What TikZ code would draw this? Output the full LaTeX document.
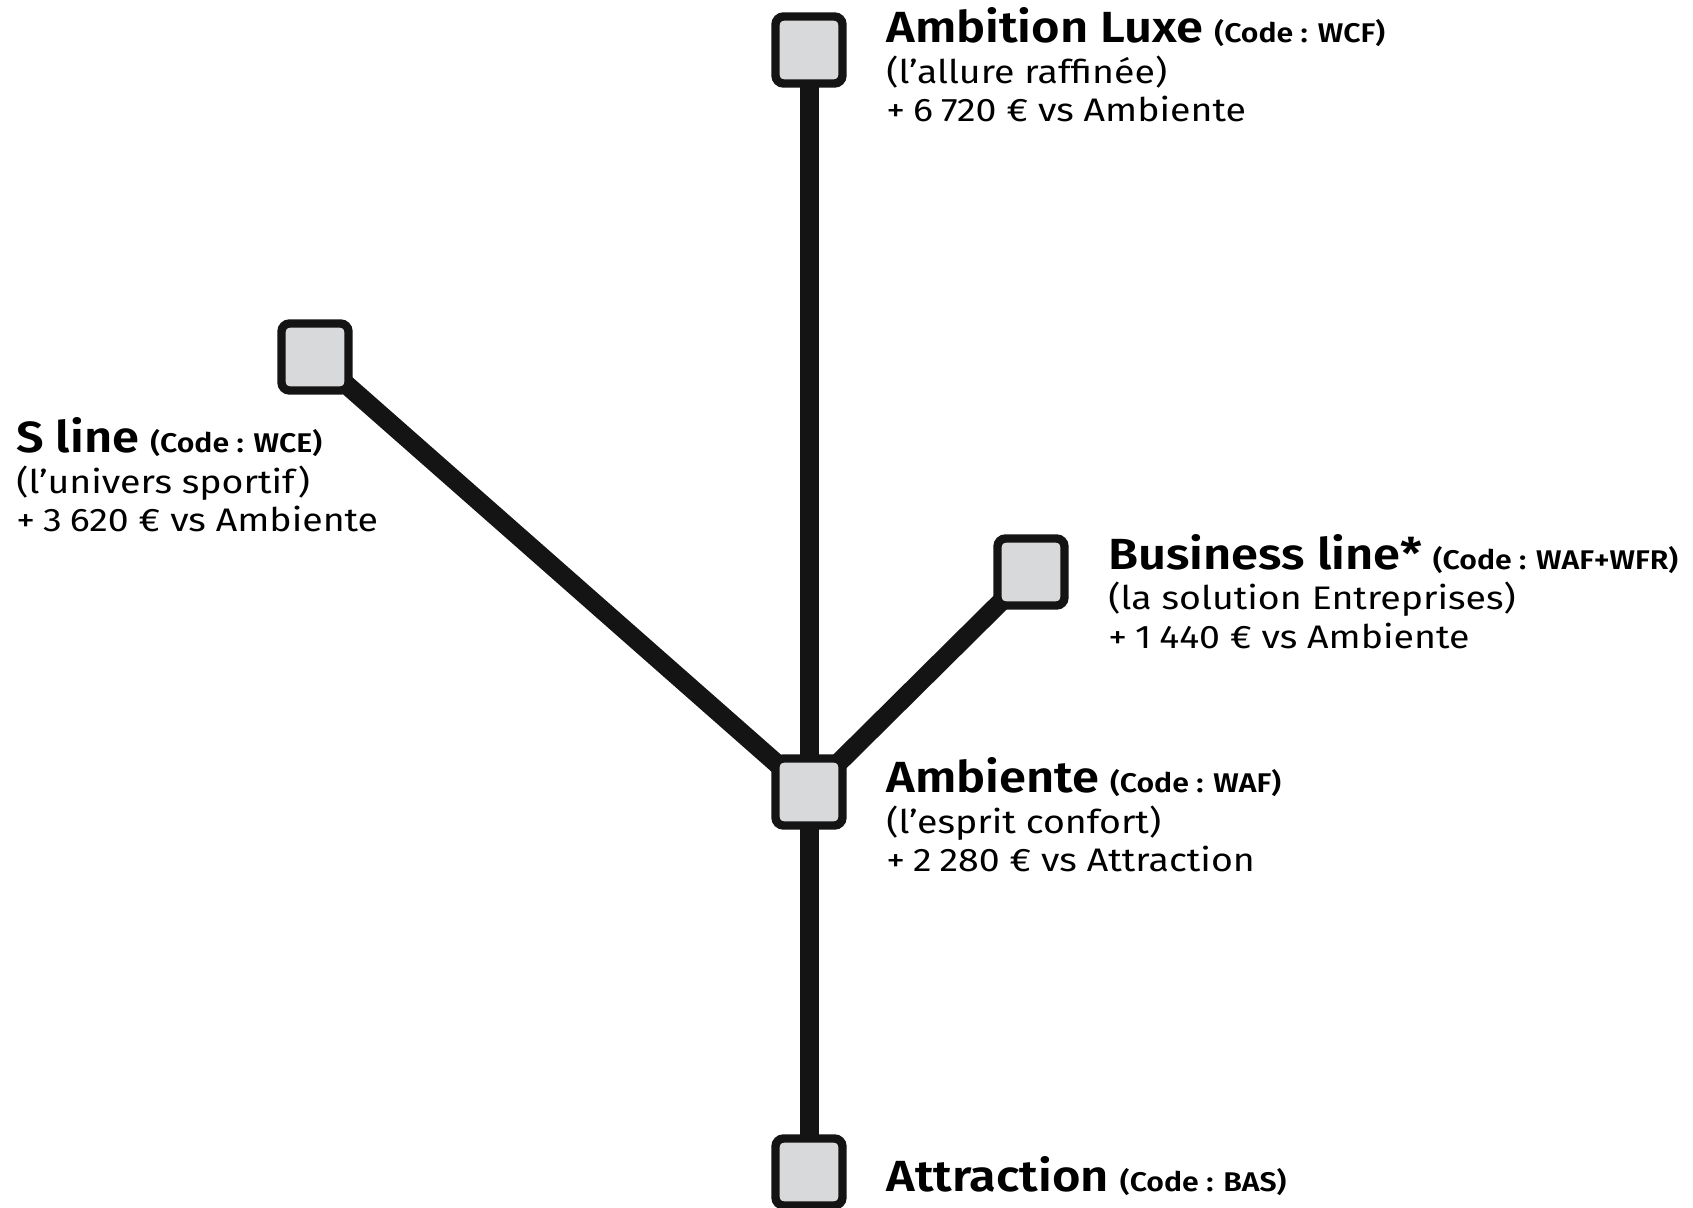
\documentclass[tikz,border=0pt]{standalone}
\usepackage{fontspec}
\setmainfont{Fira Sans}[
  FakeStretch=1.15,
  BoldFont={Fira Sans SemiBold},
  BoldFeatures={FakeStretch=1.12}]
\usetikzlibrary{backgrounds}
\definecolor{ink}{HTML}{141414}
\definecolor{boxfill}{HTML}{D8D9DB}
\newcommand{\codepart}[1]{\hspace{5.5pt}{\fontsize{13.5}{15}\selectfont\bfseries (Code : #1)}}
\newcommand{\ts}{\hspace*{4pt}}
\begin{document}
\begin{tikzpicture}[x=0.5pt,y=-0.5pt,
  verbox/.style={draw=ink, fill=boxfill, line width=4.2pt, rounded corners=4pt,
                 minimum size=33.5pt, inner sep=0pt},
  link/.style={draw=ink, line width=9.5pt},
  ttl/.style={anchor=base west, inner sep=0pt,
              font=\fontsize{21.8}{24}\selectfont\bfseries},
  sub/.style={anchor=base west, inner sep=0pt,
              font=\fontsize{16.3}{18}\selectfont},
]
\useasboundingbox (0,0) rectangle (1693,1208);

% boxes
\node[verbox] (lux) at (809,50) {};
\node[verbox] (sl)  at (315,357) {};
\node[verbox] (biz) at (1031,572) {};
\node[verbox] (amb) at (809,792) {};
\node[verbox] (att) at (809,1172) {};

% connectors behind boxes
\begin{scope}[on background layer]
  \fill[white] (0,0) rectangle (1693,1208);
  \draw[link] (lux.center) -- (amb.center);
  \draw[link] (amb.center) -- (att.center);
  \draw[link] (sl.center) -- (amb.center);
  \draw[link] (biz.center) -- (amb.center);
\end{scope}

% labels
\node[ttl] (luxA) at (886,43) {Ambition Luxe\codepart{WCF}};
\node[sub] (luxB) at (886,84) {(l’allure raffinée)};
\node[sub] (luxC) at (886,122) {+\ts 6\ts 720 € vs Ambiente};

\node[ttl] (slA) at (16,453) {S line\codepart{WCE}};
\node[sub] (slB) at (16,494) {(l’univers sportif)};
\node[sub] (slC) at (16,532) {+\ts 3\ts 620 € vs Ambiente};

\node[ttl] (bizA) at (1108,569) {Business line*\codepart{WAF+WFR}};
\node[sub] (bizB) at (1108,610) {(la solution Entreprises)};
\node[sub] (bizC) at (1108,648) {+\ts 1\ts 440 € vs Ambiente};

\node[ttl] (ambA) at (886,792) {Ambiente\codepart{WAF}};
\node[sub] (ambB) at (886,833) {(l’esprit confort)};
\node[sub] (ambC) at (886,871) {+\ts 2\ts 280 € vs Attraction};

\node[ttl] (attA) at (886,1191) {Attraction\codepart{BAS}};
\end{tikzpicture}
\end{document}
